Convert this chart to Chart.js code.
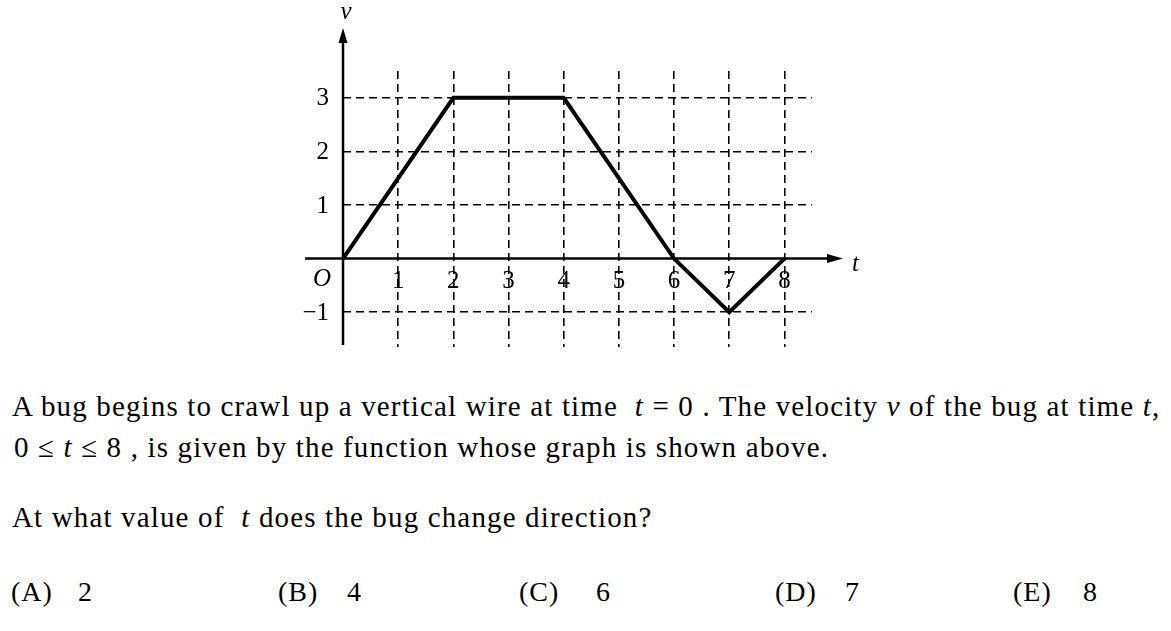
<!DOCTYPE html>
<html>
<head>
<meta charset="utf-8">
<script src="https://cdn.jsdelivr.net/npm/chart.js"></script>
<style>
    body {
        margin: 0;
        background: #fff;
        width: 1171px;
        height: 631px;
        overflow: hidden;
        position: relative;
        font-family: "Liberation Serif", "Times New Roman", serif;
        color: #000;
    }
    .graph { position: absolute; left: 0; top: 0; width: 1171px; height: 370px; }
    .txt { position: absolute; font-size: 29px; line-height: 29px; letter-spacing: 1.15px; white-space: nowrap; }
    .ans { position: absolute; font-size: 28px; line-height: 28px; letter-spacing: 1px; white-space: nowrap; }
    .txt i { font-style: italic; }
</style>
</head>
<body>
<div class="graph"><canvas id="chart-velocity" width="1171" height="370"></canvas></div>

<div class="txt" style="left:12px;top:392px">A bug begins to crawl up a vertical wire at time&nbsp; <i>t</i> = 0 . The velocity <i>v</i> of the bug at time <i>t</i>,</div>
<div class="txt" style="left:14px;top:433px">0 ≤ <i>t</i> ≤ 8 , is given by the function whose graph is shown above.</div>
<div class="txt" style="left:12px;top:503px">At what value of&nbsp; <i>t</i> does the bug change direction?</div>

<div class="ans" style="left:11px;top:578px">(A)</div><div class="ans" style="left:78px;top:578px">2</div>
<div class="ans" style="left:278px;top:578px">(B)</div><div class="ans" style="left:347px;top:578px">4</div>
<div class="ans" style="left:519px;top:578px">(C)</div><div class="ans" style="left:596px;top:578px">6</div>
<div class="ans" style="left:775px;top:578px">(D)</div><div class="ans" style="left:845px;top:578px">7</div>
<div class="ans" style="left:1013px;top:578px">(E)</div><div class="ans" style="left:1083px;top:578px">8</div>

<script>
// velocity graph v(t)
const times = [0, 2, 4, 6, 7, 8];
const velocity = [0, 3, 3, 0, -1, 0];
const xTicks = [1, 2, 3, 4, 5, 6, 7, 8];
const yTicks = [-1, 1, 2, 3];
const yTickLabels = ['\u22121', '1', '2', '3'];

const labelFont = '25px "Liberation Serif", serif';
const italicFont = 'italic 25px "Liberation Serif", serif';

// axes with arrows, tick labels, O / v / t
const axesPlugin = {
    id: 'axesPlugin',
    afterDraw(chart) {
        const { ctx, chartArea, scales: { x, y } } = chart;
        const x0 = x.getPixelForValue(0);
        const y0 = y.getPixelForValue(0);

        ctx.save();
        ctx.strokeStyle = '#000';
        ctx.fillStyle = '#000';
        ctx.lineWidth = 2.5;
        ctx.setLineDash([]);

        // y axis
        const yTop = chartArea.top - 43;
        ctx.beginPath();
        ctx.moveTo(x0, chartArea.bottom - 2);
        ctx.lineTo(x0, yTop + 10);
        ctx.stroke();
        ctx.beginPath();
        ctx.moveTo(x0, yTop);
        ctx.lineTo(x0 - 4.5, yTop + 15);
        ctx.lineTo(x0 + 4.5, yTop + 15);
        ctx.closePath();
        ctx.fill();

        // x axis
        const xEnd = chartArea.right + 31;
        ctx.beginPath();
        ctx.moveTo(x0 - 38, y0);
        ctx.lineTo(xEnd - 10, y0);
        ctx.stroke();
        ctx.beginPath();
        ctx.moveTo(xEnd, y0);
        ctx.lineTo(xEnd - 16, y0 - 4.5);
        ctx.lineTo(xEnd - 16, y0 + 4.5);
        ctx.closePath();
        ctx.fill();

        // tick labels
        ctx.font = labelFont;
        ctx.textAlign = 'center';
        ctx.textBaseline = 'alphabetic';
        xTicks.forEach(v => {
            ctx.fillText(String(v), x.getPixelForValue(v), y0 + 29);
        });
        ctx.textAlign = 'right';
        ctx.textBaseline = 'middle';
        yTicks.forEach((v, i) => {
            ctx.fillText(yTickLabels[i], x0 - 14, y.getPixelForValue(v) + 1);
        });

        ctx.font = italicFont;
        ctx.textAlign = 'center';
        ctx.textBaseline = 'alphabetic';
        ctx.fillText('O', x0 - 21, y0 + 27);
        ctx.fillText('v', x0 + 3, 19);
        ctx.textAlign = 'left';
        ctx.fillText('t', xEnd + 9, y0 + 12);
        ctx.restore();
    }
};

const gridOpts = {
    color: '#000',
    lineWidth: 1.6,
    drawTicks: false
};

const chartVelocity = new Chart(document.getElementById('chart-velocity'), {
    type: 'line',
    data: {
        datasets: [{
            label: 'v',
            data: times.map((t, i) => ({ x: t, y: velocity[i] })),
            borderColor: '#000',
            borderWidth: 4,
            borderJoinStyle: 'miter',
            pointRadius: 0,
            tension: 0,
            fill: false,
            clip: false
        }]
    },
    options: {
        responsive: false,
        animation: false,
        events: [],
        layout: {
            padding: { left: 343, right: 359, top: 71, bottom: 23 }
        },
        scales: {
            x: {
                type: 'linear',
                min: 0,
                max: 8.5,
                afterBuildTicks: scale => { scale.ticks = xTicks.map(v => ({ value: v })); },
                ticks: { display: false },
                grid: gridOpts,
                border: { display: false, dash: [8, 5] }
            },
            y: {
                type: 'linear',
                min: -1.65,
                max: 3.5,
                afterBuildTicks: scale => { scale.ticks = yTicks.map(v => ({ value: v })); },
                ticks: { display: false },
                grid: gridOpts,
                border: { display: false, dash: [8, 5] }
            }
        },
        plugins: {
            legend: { display: false },
            tooltip: { enabled: false }
        }
    },
    plugins: [axesPlugin]
});
</script>
</body>
</html>
